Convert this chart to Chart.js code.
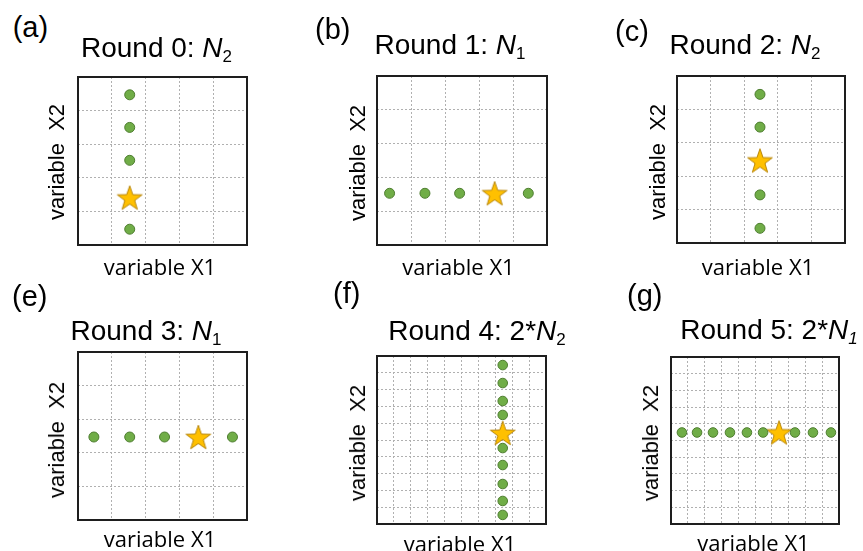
<!DOCTYPE html>
<html><head><meta charset="utf-8">
<script src="https://cdn.jsdelivr.net/npm/chart.js@4.4.0/dist/chart.umd.min.js"></script>
<style>
html,body{margin:0;padding:0;background:#fff;}
#stage{position:relative;width:863px;height:551px;overflow:hidden;background:#fff;}
#stage canvas{position:absolute;}
.t{position:absolute;white-space:pre;color:#000;}
.ttl{font-family:"Liberation Sans",Arial,sans-serif;font-size:28px;line-height:28px;transform:translateX(-50%);}
.ttl sub{font-size:17px;vertical-align:-5px;line-height:0;}
.pl{font-family:"Liberation Sans",Arial,sans-serif;font-size:29px;line-height:29px;}
.xl{font-family:"Open Sans",sans-serif;font-size:22px;line-height:22px;transform:translate(-50%,-50%);}
.yl{font-family:"Liberation Sans",Arial,sans-serif;font-size:22px;line-height:22px;transform:translate(-50%,-50%) rotate(-90deg);}
</style></head>
<body><div id="stage"></div>
<script>
// ---- data ----
const aDotsX = [1.53, 1.53, 1.53, 1.53];
const aDotsY = [4.47, 3.5, 2.52, 0.47];
const aStar  = [1.53, 1.41];

const bDotsX = [0.37, 1.41, 2.43, 4.45];
const bDotsY = [1.53, 1.53, 1.53, 1.53];
const bStar  = [3.46, 1.53];

const cDotsX = [2.47, 2.47, 2.47, 2.47];
const cDotsY = [4.45, 3.47, 1.44, 0.44];
const cStar  = [2.47, 2.47];

const eDotsX = [0.47, 1.53, 2.56, 4.57];
const eDotsY = [2.47, 2.47, 2.47, 2.47];
const eStar  = [3.56, 2.47];

const fDotsX = [7.44, 7.44, 7.44, 7.44, 7.44, 7.44, 7.44, 7.44, 7.44];
const fDotsY = [9.46, 8.39, 7.32, 6.49, 4.52, 3.51, 2.38, 1.37, 0.54];
const fStar  = [7.44, 5.42];

const gDotsX = [0.65, 1.55, 2.5, 3.51, 4.52, 5.48, 7.38, 8.45, 9.52];
const gDotsY = [5.48, 5.48, 5.48, 5.48, 5.48, 5.48, 5.48, 5.48, 5.48];
const gStar  = [6.43, 5.48];

const panelLetters = ['(a)', '(b)', '(c)', '(e)', '(f)', '(g)'];
const roundLabels = ['Round 0: ', 'Round 1: ', 'Round 2: ', 'Round 3: ', 'Round 4: 2*', 'Round 5: 2*'];
const roundSubs = ['2', '1', '2', '1', '2', '1'];
const gridCounts = [5, 5, 5, 5, 10, 10];
const xAxisLabel = 'variable X1';
const yAxisLabel = 'variable  X2';

// ---- layout ----
const layout = [
  {box:[78,77,247,245],  pl:[12.7,16.7], ttl:[156.5,47.5], xl:[160,265.7], yl:[57,162]},
  {box:[377,76,547,245], pl:[315,18.4],  ttl:[450,45],     xl:[458.5,266], yl:[357.5,162.5]},
  {box:[677,76,845,243], pl:[615,20],    ttl:[745,44.5],   xl:[758,266],   yl:[657.5,162]},
  {box:[78,352,247,520], pl:[12,285],    ttl:[146,331],    xl:[160,537.5], yl:[57,440]},
  {box:[377,356,546,524],pl:[333,282],   ttl:[477,331],    xl:[460,542.5], yl:[357.5,443]},
  {box:[671,357,839,524],pl:[627,284],   ttl:[769,330],    xl:[753.5,542], yl:[650.5,443]}
];
const series = [
  [aDotsX,aDotsY,aStar],[bDotsX,bDotsY,bStar],[cDotsX,cDotsY,cStar],
  [eDotsX,eDotsY,eStar],[fDotsX,fDotsY,fStar],[gDotsX,gDotsY,gStar]
];

function makeStar(R, fill, stroke){
  const c = document.createElement('canvas');
  const s = Math.ceil(2*R + 4); c.width = s; c.height = s;
  const g = c.getContext('2d');
  const cx = s/2, cy = s/2 + 0.095*R, r = R*0.40;
  g.beginPath();
  for (let i = 0; i < 10; i++){
    const ang = -Math.PI/2 + i*Math.PI/5, rr = i%2 ? r : R;
    g.lineTo(cx + rr*Math.cos(ang), cy + rr*Math.sin(ang));
  }
  g.closePath();
  g.fillStyle = fill; g.fill();
  g.lineWidth = 1; g.strokeStyle = stroke; g.stroke();
  return c;
}
const starImg = makeStar(13, '#FFC000', '#B8860B');

const framePlugin = {
  id: 'frame',
  beforeDatasetsDraw(ch){
    const a = ch.chartArea, g = ch.ctx;
    g.save(); g.setLineDash([]); g.lineWidth = 2; g.strokeStyle = '#1e1e1e';
    g.strokeRect(a.left, a.top, a.right - a.left, a.bottom - a.top);
    g.restore();
  }
};

const stage = document.getElementById('stage');
function addText(cls, html, x, y){
  const d = document.createElement('div');
  d.className = 't ' + cls; d.innerHTML = html;
  d.style.left = x + 'px'; d.style.top = y + 'px';
  stage.appendChild(d); return d;
}

const M = 15;
layout.forEach((L, i) => {
  const [l,t,r,b] = L.box, n = gridCounts[i];
  const cv = document.createElement('canvas');
  const W = (r - l) + 2*M, H = (b - t) + 2*M;
  cv.width = W; cv.height = H; cv.style.width = W + 'px'; cv.style.height = H + 'px';
  cv.style.left = (l - M) + 'px'; cv.style.top = (t - M) + 'px';
  stage.appendChild(cv);
  const [dx, dy, st] = series[i];
  const axis = {
    type: 'linear', min: 0, max: n,
    ticks: {display: false, stepSize: 1},
    grid: {color: '#b0b0b0', lineWidth: 1, drawTicks: false},
    border: {display: false, dash: [2, 2]}
  };
  const ch = new Chart(cv, {
    type: 'scatter',
    data: {datasets: [
      {data: dx.map((x, k) => ({x: x, y: dy[k]})), pointRadius: n === 10 ? 4.8 : 5,
       pointHoverRadius: 5, pointBackgroundColor: '#70AD47', pointBorderColor: '#4E7D30', pointBorderWidth: 1},
      {data: [{x: st[0], y: st[1]}], pointStyle: starImg, pointRadius: 12}
    ]},
    options: {
      responsive: false, animation: false, events: [],
      layout: {padding: M},
      plugins: {legend: {display: false}, tooltip: {enabled: false}, title: {display: false}},
      scales: {x: JSON.parse(JSON.stringify(axis)), y: JSON.parse(JSON.stringify(axis))}
    },
    plugins: [framePlugin]
  });
  const ca = ch.chartArea;
  cv.style.left = (l - ca.left) + 'px'; cv.style.top = (t - ca.top) + 'px';

  addText('pl', panelLetters[i], L.pl[0], L.pl[1] - 3.4);
  const subHtml = i === 5 ? '<i>' + roundSubs[i] + '</i>' : roundSubs[i];
  addText('ttl', roundLabels[i] + '<i>N</i><sub>' + subHtml + '</sub>', L.ttl[0], L.ttl[1] - 13.7);
  addText('xl', xAxisLabel, L.xl[0], L.xl[1]);
  addText('yl', yAxisLabel, L.yl[0], L.yl[1]);
});
</script>
</body></html>
